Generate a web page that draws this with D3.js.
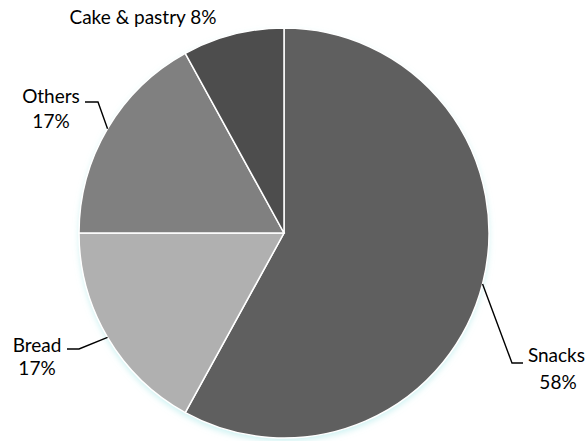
<!DOCTYPE html>
<html>
<head>
<meta charset="utf-8">
<script src="https://cdn.jsdelivr.net/npm/d3@7"></script>
<style>
  body { margin: 0; background: #fff; }
  text { font-family: Lato, "Open Sans", sans-serif; font-size: 19px; fill: #000; }
</style>
</head>
<body>
<svg class="canvas" width="586" height="441"></svg>
<script>
'use strict';

// Data.
const categories = ['Snacks', 'Bread', 'Others', 'Cake & pastry'];
const shares = [58, 17, 17, 8];
const colours = ['#5f5f5f', '#b0b0b0', '#808080', '#4d4d4d'];

const cx = 284, cy = 233, radius = 205;

const svg = d3.select('.canvas');

// soft cyan shadow under the pie
const defs = svg.append('defs');
const f = defs.append('filter').attr('id', 'glow')
  .attr('x', '-10%').attr('y', '-10%').attr('width', '120%').attr('height', '120%');
f.append('feGaussianBlur').attr('in', 'SourceAlpha').attr('stdDeviation', 3).attr('result', 'b');
f.append('feOffset').attr('in', 'b').attr('dy', 3).attr('result', 'o');
f.append('feFlood').attr('flood-color', '#bfeeee').attr('flood-opacity', 0.8);
f.append('feComposite').attr('in2', 'o').attr('operator', 'in').attr('result', 's');
const m = f.append('feMerge');
m.append('feMergeNode').attr('in', 's');
m.append('feMergeNode').attr('in', 'SourceGraphic');

const pie = d3.pie().sort(null).value(d => d.value);
const arc = d3.arc().innerRadius(0).outerRadius(radius);

const data = categories.map((c, i) => ({ name: c, value: shares[i], colour: colours[i] }));
const arcs = pie(data);

const g = svg.append('g').attr('transform', `translate(${cx},${cy})`);

g.append('circle').attr('r', radius).attr('fill', '#fff').attr('filter', 'url(#glow)');

g.selectAll('path.slice')
  .data(arcs)
  .enter()
  .append('path')
  .attr('class', 'slice')
  .attr('d', arc)
  .attr('fill', d => d.data.colour)
  .attr('stroke', '#fff')
  .attr('stroke-width', 1.5);

// Labels: text spots and leader elbows picked to sit like the picture.
const labelPos = {
  'Snacks': { lines: ['Snacks', '58%'], x: [585, 558], y: [362, 389], anchor: ['end', 'middle'], leader: [[512, 363], [523, 363]] },
  'Bread': { lines: ['Bread', '17%'], x: [37, 37], y: [352, 375], leader: [[79, 349], [67, 349]] },
  'Others': { lines: ['Others', '17%'], x: [51, 51], y: [103, 128], leader: [[98, 102], [85, 102]] },
  'Cake & pastry': { lines: ['Cake & pastry 8%'], x: [143], y: [24], leader: null }
};

// leader starts at the middle of the slice's edge
const midOnArc = d => {
  const [x, y] = d3.arc().innerRadius(radius).outerRadius(radius).centroid(d);
  return [cx + x, cy + y];
};

arcs.forEach(d => {
  const p = labelPos[d.data.name];
  if (p.leader) {
    svg.append('path')
      .attr('d', d3.line()([midOnArc(d), ...p.leader]))
      .attr('fill', 'none')
      .attr('stroke', '#000')
      .attr('stroke-width', 1.4);
  }
  p.lines.forEach((t, i) => {
    svg.append('text')
      .attr('x', p.x[i])
      .attr('y', p.y[i])
      .attr('text-anchor', p.anchor ? p.anchor[i] : 'middle')
      .text(t);
  });
});
</script>
</body>
</html>
